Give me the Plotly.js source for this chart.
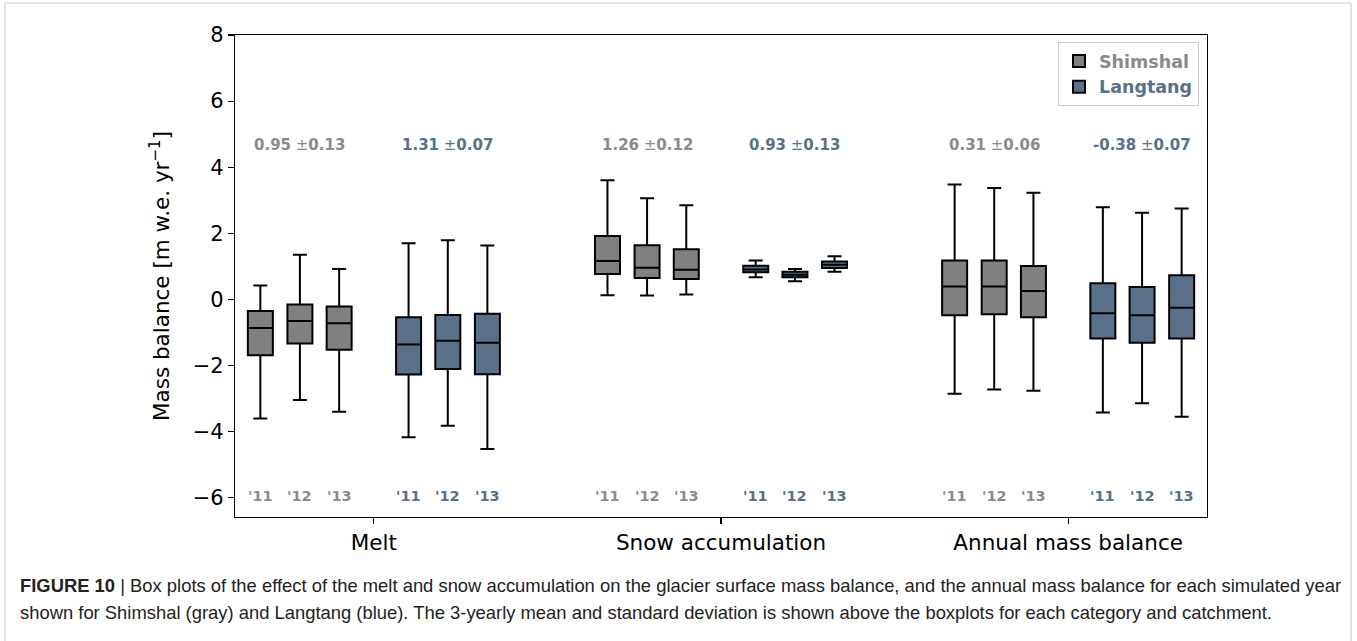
<!DOCTYPE html>
<html>
<head>
<meta charset="utf-8">
<script src="https://cdn.plot.ly/plotly-3.0.1.min.js"></script>
<style>
  html, body { margin: 0; padding: 0; background: #fff; }
  #chart { width: 1357px; height: 641px; }
</style>
</head>
<body>
<div id="chart"></div>
<script>
// ---------------- data ----------------
const categories = ['Melt', 'Snow accumulation', 'Annual mass balance'];
const years = ["'11", "'12", "'13"];
const seriesNames = ['Shimshal', 'Langtang'];

// order: Melt '11,'12,'13 | Snow '11,'12,'13 | Annual '11,'12,'13
const shimQ1  = [-1.69, -1.33, -1.52, 0.77, 0.65, 0.62, -0.48, -0.45, -0.54];
const shimMed = [-0.86, -0.65, -0.72, 1.16, 0.96, 0.90, 0.39, 0.39, 0.26];
const shimQ3  = [-0.35, -0.15, -0.21, 1.92, 1.64, 1.52, 1.18, 1.18, 1.01];
const shimLo  = [-3.60, -3.04, -3.40, 0.13, 0.12, 0.15, -2.85, -2.72, -2.76];
const shimHi  = [0.42, 1.35, 0.92, 3.61, 3.06, 2.85, 3.48, 3.37, 3.23];

const langQ1  = [-2.27, -2.10, -2.26, 0.82, 0.67, 0.95, -1.18, -1.31, -1.18];
const langMed = [-1.36, -1.25, -1.31, 0.91, 0.75, 1.05, -0.42, -0.48, -0.25];
const langQ3  = [-0.54, -0.47, -0.43, 1.02, 0.84, 1.15, 0.49, 0.38, 0.73];
const langLo  = [-4.17, -3.82, -4.52, 0.67, 0.55, 0.84, -3.42, -3.14, -3.55];
const langHi  = [1.70, 1.79, 1.63, 1.18, 0.92, 1.31, 2.79, 2.62, 2.75];

const shimMeanVal = ['0.95', '1.26', '0.31'];
const shimStdVal  = ['0.13', '0.12', '0.06'];
const langMeanVal = ['1.31', '0.93', '-0.38'];
const langStdVal  = ['0.07', '0.13', '0.07'];

const captionLine1 = 'Box plots of the effect of the melt and snow accumulation on the glacier surface mass balance, and the annual mass balance for each simulated year';
const captionLine2 = 'shown for Shimshal (gray) and Langtang (blue). The 3-yearly mean and standard deviation is shown above the boxplots for each category and catchment.';

// ---------------- styling / layout constants ----------------
const colShim = '#808080';
const colLang = '#5a7089';
const txtShim = '#8a8a8a';
const txtLang = '#5a7089';
const offShim = [-0.327, -0.213, -0.1];
const offLang = [0.1, 0.213, 0.327];
const boxW = 0.072;

const W = 1357, H = 641;
const mL = 235, mR = 150, mT = 35, mB = 124;
const plotW = W - mL - mR, plotH = H - mT - mB;
const px2x = p => (p - mL) / plotW;
const py2y = p => (H - mB - p) / plotH;

function positions(off) {
  const out = [];
  categories.forEach((c, i) => off.forEach(o => out.push(i + o)));
  return out;
}

const base = {
  type: 'box',
  width: boxW,
  whiskerwidth: 0.56,
  line: { color: '#000', width: 2 },
  hoverinfo: 'skip',
  boxpoints: false
};

const traces = [
  Object.assign({}, base, {
    name: '<b><span style="color:' + txtShim + '">' + seriesNames[0] + '</span></b>',
    x: positions(offShim), q1: shimQ1, median: shimMed, q3: shimQ3,
    lowerfence: shimLo, upperfence: shimHi, fillcolor: colShim
  }),
  Object.assign({}, base, {
    name: '<b><span style="color:' + txtLang + '">' + seriesNames[1] + '</span></b>',
    x: positions(offLang), q1: langQ1, median: langMed, q3: langQ3,
    lowerfence: langLo, upperfence: langHi, fillcolor: colLang
  })
];

const annotations = [];
categories.forEach((c, i) => {
  annotations.push({ x: i + offShim[1], y: 4.67, xref: 'x', yref: 'y', showarrow: false,
    text: '<b>' + shimMeanVal[i] + '</b> ±<b>' + shimStdVal[i] + '</b>',
    font: { family: 'DejaVu Sans', size: 15, color: txtShim } });
  annotations.push({ x: i + offLang[1], y: 4.67, xref: 'x', yref: 'y', showarrow: false,
    text: '<b>' + langMeanVal[i] + '</b> ±<b>' + langStdVal[i] + '</b>',
    font: { family: 'DejaVu Sans', size: 15, color: txtLang } });
  years.forEach((yr, j) => {
    annotations.push({ x: i + offShim[j], y: -5.95, xref: 'x', yref: 'y', showarrow: false,
      text: '<b>' + yr + '</b>', font: { family: 'DejaVu Sans', size: 14.5, color: txtShim } });
    annotations.push({ x: i + offLang[j], y: -5.95, xref: 'x', yref: 'y', showarrow: false,
      text: '<b>' + yr + '</b>', font: { family: 'DejaVu Sans', size: 14.5, color: txtLang } });
  });
});

annotations.push({ xref: 'paper', yref: 'paper', x: px2x(18), y: py2y(585), xanchor: 'left', yanchor: 'middle',
  showarrow: false, align: 'left',
  text: '<b>FIGURE 10</b> | ' + captionLine1,
  font: { family: 'Liberation Sans, Arial', size: 18.4, color: '#222' } });
annotations.push({ xref: 'paper', yref: 'paper', x: px2x(18), y: py2y(612), xanchor: 'left', yanchor: 'middle',
  showarrow: false, align: 'left',
  text: captionLine2,
  font: { family: 'Liberation Sans, Arial', size: 18.4, color: '#222' } });

const layout = {
  width: W, height: H,
  margin: { l: mL, r: mR, t: mT, b: mB, pad: 0 },
  paper_bgcolor: '#fff', plot_bgcolor: '#fff',
  font: { family: 'DejaVu Sans', color: '#000' },
  boxmode: 'overlay',
  showlegend: true,
  legend: {
    x: px2x(1199), y: py2y(42), xanchor: 'right', yanchor: 'top',
    bgcolor: '#fff', bordercolor: '#cccccc', borderwidth: 1,
    font: { family: 'DejaVu Sans', size: 17.5 },
    tracegroupgap: 2
  },
  xaxis: {
    range: [-0.4, 2.4],
    tickmode: 'array', tickvals: [0, 1, 2], ticktext: categories,
    ticks: 'outside', ticklen: 6, tickwidth: 1.2, tickcolor: '#000',
    showline: true, linecolor: '#000', linewidth: 1.2, mirror: true,
    showgrid: false, zeroline: false,
    tickfont: { family: 'DejaVu Sans', size: 21.5, color: '#000' }
  },
  yaxis: {
    range: [-6.58, 8],
    tickmode: 'array', tickvals: [-6, -4, -2, 0, 2, 4, 6, 8],
    ticktext: ['−6', '−4', '−2', '0', '2', '4', '6', '8'],
    ticks: 'outside', ticklen: 6, tickwidth: 1.2, tickcolor: '#000',
    showline: true, linecolor: '#000', linewidth: 1.2, mirror: true,
    showgrid: false, zeroline: false,
    tickfont: { family: 'DejaVu Sans', size: 21, color: '#000' },
    title: { text: 'Mass balance [m w.e. yr<sup>−1</sup>]', standoff: 17,
      font: { family: 'DejaVu Sans', size: 21.5, color: '#000' } }
  },
  shapes: [{
    type: 'rect', xref: 'paper', yref: 'paper',
    x0: px2x(5), x1: px2x(1351), y0: py2y(660), y1: py2y(3),
    line: { color: '#c8c8c8', width: 1 }, fillcolor: 'rgba(0,0,0,0)', layer: 'below'
  }],
  annotations: annotations
};

Plotly.newPlot('chart', traces, layout, { displayModeBar: false, staticPlot: true });
</script>
</body>
</html>
